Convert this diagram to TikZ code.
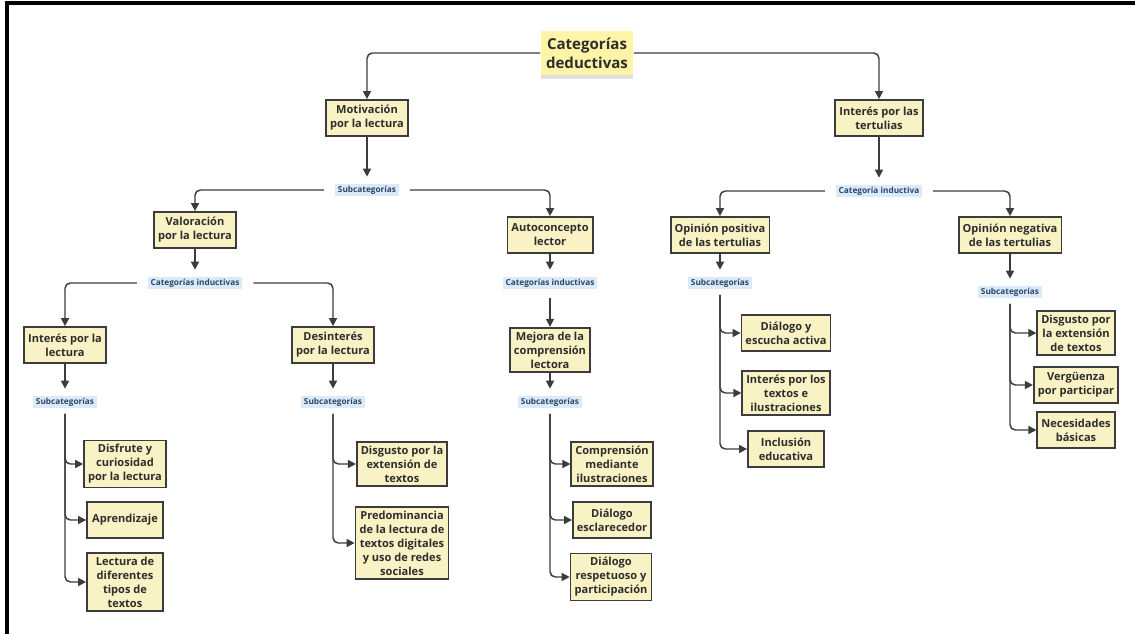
\documentclass[tikz,border=0pt]{standalone}
\usepackage{fontspec}
\setmainfont{Open Sans}
\usetikzlibrary{arrows.meta,shadows}

\definecolor{boxfill}{RGB}{249,242,196}
\definecolor{rootfill}{RGB}{253,244,168}
\definecolor{boxline}{RGB}{60,60,60}
\definecolor{labfill}{RGB}{218,234,249}
\definecolor{labtext}{RGB}{44,70,100}
\definecolor{inktext}{RGB}{45,45,45}

\tikzset{every picture/.style={line width=0.75pt}}
\tikzset{
  catbox/.style={draw=boxline, line width=1.3pt, fill=boxfill, text=inktext, align=center,
    font=\bfseries\fontsize{8.3}{10.5}\selectfont, inner xsep=3pt, inner ysep=3pt,
    minimum width=57pt, minimum height=27pt},
  rootbox/.style={fill=rootfill, text=inktext, align=center,
    font=\bfseries\fontsize{11.3}{14.5}\selectfont, inner xsep=4pt, inner ysep=5pt,
    drop shadow={shadow xshift=0pt, shadow yshift=-3pt, opacity=0.25}},
  tag/.style={fill=labfill, text=labtext, font=\bfseries\fontsize{6.2}{7}\selectfont,
    inner xsep=2pt, inner ysep=1.5pt},
  link/.style={draw=boxline, line width=1.1pt, rounded corners=4pt,
    -{Triangle[length=6pt,width=6pt]}},
  bus/.style={draw=boxline, line width=1.1pt, rounded corners=4pt}
}

\begin{document}
\begin{tikzpicture}[x=0.75pt,y=0.75pt,yscale=-1,xscale=1]
\useasboundingbox (0,0) rectangle (1135,634);

%Frame
\draw [line width=2.4pt] (1135,3) -- (7,3) -- (7,634);

% Text Node
\node [rootbox] (root) at (587,53) {Categorías\\deductivas};

%Deductive categories
\node [catbox] (mot) at (367,118) {Motivación\\por la lectura};
\node [catbox] (tert) at (879,118) {Interés por las\\tertulias};

% Text Node
\node [tag] (sub1) at (367,190) {Subcategorías};
\node [tag] (cind1) at (879,191) {Categoría inductiva};

%Second level
\node [catbox] (val) at (195,230) {Valoración\\por la lectura};
\node [catbox] (auto) at (550,235) {Autoconcepto\\lector};
\node [catbox] (opos) at (720,235) {Opinión positiva\\de las tertulias};
\node [catbox] (oneg) at (1010,235) {Opinión negativa\\de las tertulias};

% Text Node
\node [tag] (cind2) at (195,283) {Categorías inductivas};
\node [tag] (cind3) at (550,283) {Categorías inductivas};
\node [tag] (sub2) at (720,283) {Subcategorías};
\node [tag] (sub3) at (1010,292) {Subcategorías};

%Third level
\node [catbox] (intl) at (65,345) {Interés por la\\lectura};
\node [catbox] (desi) at (333,345) {Desinterés\\por la lectura};
\node [catbox] (mejo) at (550,350) {Mejora de la\\comprensión\\lectora};

% Text Node
\node [tag] (sub4) at (65,402) {Subcategorías};
\node [tag] (sub5) at (333,402) {Subcategorías};
\node [tag] (sub6) at (550,402) {Subcategorías};

%Leaves
\node [catbox] (disf) at (125,464) {Disfrute y\\curiosidad\\por la lectura};
\node [catbox] (apre) at (125,520) {Aprendizaje};
\node [catbox] (lect) at (125,582) {Lectura de\\diferentes\\tipos de\\textos};
\node [catbox] (disg) at (402,464) {Disgusto por la\\extensión de\\textos};
\node [catbox] (pred) at (402,543) {Predominancia\\de la lectura de\\textos digitales\\y uso de redes\\sociales};
\node [catbox] (comp) at (612,464) {Comprensión\\mediante\\ilustraciones};
\node [catbox] (dacl) at (612,520) {Diálogo\\esclarecedor};
\node [catbox] (dres) at (611,577) {Diálogo\\respetuoso y\\participación};
\node [catbox] (dial) at (786,333) {Diálogo y\\escucha activa};
\node [catbox] (intx) at (786,393) {Interés por los\\textos e\\ilustraciones};
\node [catbox] (incl) at (786,449) {Inclusión\\educativa};
\node [catbox] (dext) at (1076,333) {Disgusto por\\la extensión\\de textos};
\node [catbox] (verg) at (1076,385) {Vergüenza\\por participar};
\node [catbox] (nece) at (1076,430) {Necesidades\\básicas};

%Connectors
\draw [link] (root.west) -| (mot.north);
\draw [link] (root.east) -| (tert.north);
\draw [link, shorten >=5pt] (mot.south) -- (mot.south |- sub1.north);
\draw [link, shorten >=5pt] (tert.south) -- (tert.south |- cind1.north);
\draw [link, shorten <=8pt] (sub1.west) -| (val.north);
\draw [link, shorten <=8pt] (sub1.east) -| (auto.north);
\draw [link, shorten <=8pt] (cind1.west) -| (opos.north);
\draw [link, shorten <=8pt] (cind1.east) -| (oneg.north);
\draw [link, shorten >=5pt] (val.south) -- (val.south |- cind2.north);
\draw [link, shorten >=5pt] (auto.south) -- (auto.south |- cind3.north);
\draw [link, shorten >=5pt] (opos.south) -- (opos.south |- sub2.north);
\draw [link, shorten >=5pt] (oneg.south) -- (oneg.south |- sub3.north);
\draw [link, shorten <=8pt] (cind2.west) -| (intl.north);
\draw [link, shorten <=8pt] (cind2.east) -| (desi.north);
\draw [link, shorten <=6pt] (cind3.south) -- (cind3.south |- mejo.north);
\draw [link, shorten >=5pt] (intl.south) -- (intl.south |- sub4.north);
\draw [link, shorten >=5pt] (desi.south) -- (desi.south |- sub5.north);
\draw [link, shorten >=5pt] (mejo.south) -- (mejo.south |- sub6.north);

%Subcategory buses
\foreach \leaf in {disf,apre,lect}
  \draw [link, shorten <=4pt] (sub4.south) |- (\leaf.west);
\foreach \leaf in {disg,pred}
  \draw [link, shorten <=4pt] (sub5.south) |- (\leaf.west);
\foreach \leaf in {comp,dacl,dres}
  \draw [link, shorten <=4pt] (sub6.south) |- (\leaf.west);
\foreach \leaf in {dial,intx,incl}
  \draw [link, shorten <=4pt] (sub2.south) |- (\leaf.west);
\foreach \leaf in {dext,verg,nece}
  \draw [link, shorten <=4pt] (sub3.south) |- (\leaf.west);

\end{tikzpicture}
\end{document}
